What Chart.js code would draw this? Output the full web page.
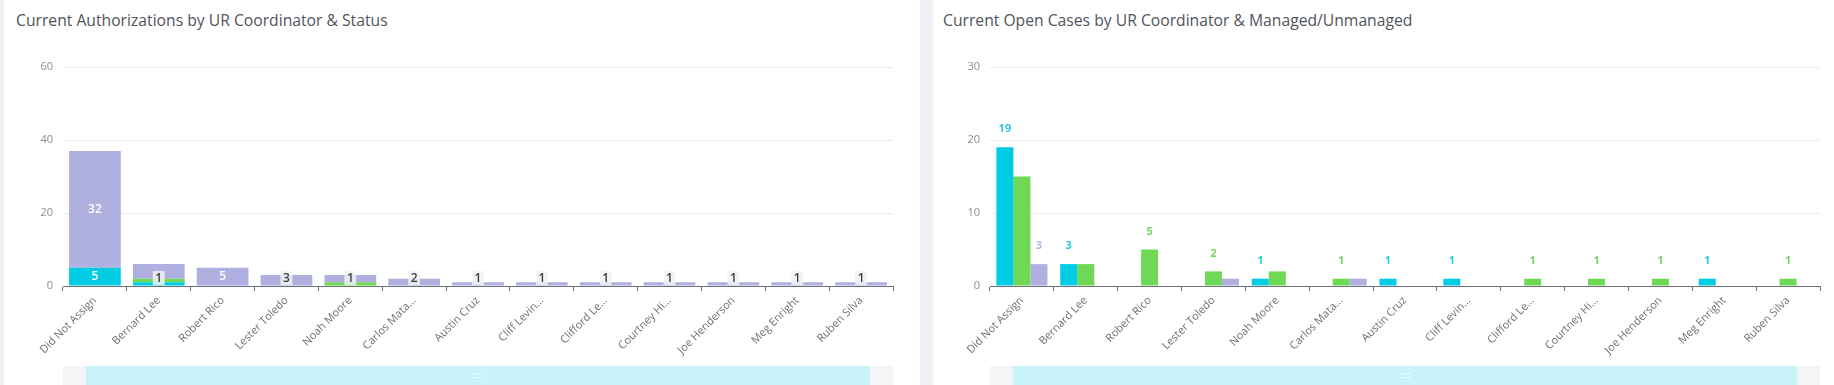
<!DOCTYPE html>
<html>
<head>
<meta charset="utf-8">
<script src="https://cdn.jsdelivr.net/npm/chart.js@4.4.1/dist/chart.umd.min.js"></script>
<style>
    html, body { margin: 0; padding: 0; background: #fff; }
    body { width: 1834px; height: 385px; position: relative; overflow: hidden; font-family: 'Open Sans', sans-serif; }
    .strip { position: absolute; top: 0; height: 385px; background: #eef1f5; }
    .title { position: absolute; top: 9px; font-size: 15.7px; line-height: 22px; color: #50545c; white-space: nowrap; }
    canvas { position: absolute; top: 0; }
</style>
</head>
<body>
<div class="strip" style="left:0;width:4px"></div>
<div class="strip" style="left:920px;width:13px"></div>
<div class="title" style="left:16px">Current Authorizations by UR Coordinator &amp; Status</div>
<div class="title" style="left:943px">Current Open Cases by UR Coordinator &amp; Managed/Unmanaged</div>
<canvas id="authChart" width="920" height="385" style="left:0"></canvas>
<canvas id="casesChart" width="901" height="385" style="left:933px"></canvas>
<script>
// Coordinators (both charts share the same list)
const coordinators = ['Did Not Assign', 'Bernard Lee', 'Robert Rico', 'Lester Toledo', 'Noah Moore', 'Carlos Mata...',
    'Austin Cruz', 'Cliff Levin...', 'Clifford Le...', 'Courtney Hi...', 'Joe Henderson', 'Meg Enright', 'Ruben Silva'];

// Authorizations by status (stacked)
const authCyan   = [5, 1, 0, 0, 0, 0, 0, 0, 0, 0, 0, 0, 0];
const authGreen  = [0, 1, 0, 0, 1, 0, 0, 0, 0, 0, 0, 0, 0];
const authPurple = [32, 4, 5, 3, 2, 2, 1, 1, 1, 1, 1, 1, 1];
const authTicks  = { max: 60, step: 20 };

// Open cases managed / unmanaged (grouped)
const caseCyan   = [19, 3, 0, 0, 1, 0, 1, 1, 0, 0, 0, 1, 0];
const caseGreen  = [15, 3, 5, 2, 2, 1, 0, 0, 1, 1, 1, 0, 1];
const casePurple = [3, 0, 0, 1, 0, 1, 0, 0, 0, 0, 0, 0, 0];
const caseTicks  = { max: 30, step: 10 };

const CYAN = '#00cde4';
const GREEN = '#6fd957';
const PURPLE = '#b0b0e0';
const AXIS = '#6e7079';
const FONT = "'Open Sans', sans-serif";

Chart.defaults.font.family = FONT;
Chart.defaults.animation = false;

// fake dataZoom slider under the x labels
const sliderPlugin = {
    id: 'slider',
    afterDraw(chart) {
        const ctx = chart.ctx;
        const { left, right } = chart.chartArea;
        const top = 366;
        ctx.save();
        ctx.fillStyle = '#f4f5f7';
        ctx.fillRect(left, top, right - left, 385 - top);
        ctx.fillStyle = '#c9f3f8';
        ctx.fillRect(left + 23, top, right - left - 46, 385 - top);
        // grip
        const mid = (left + right) / 2;
        ctx.fillStyle = '#ffffff';
        for (let r = 0; r < 2; r++) {
            for (let c = 0; c < 3; c++) {
                ctx.fillRect(mid - 5 + c * 4, top + 7 + r * 4, 2, 1);
            }
        }
        ctx.fillStyle = '#eceef1';
        ctx.fillRect(left + 8, top + 7, 7, 1);
        ctx.fillRect(left + 8, top + 10, 7, 1);
        ctx.fillRect(right - 15, top + 7, 7, 1);
        ctx.fillRect(right - 15, top + 10, 7, 1);
        ctx.restore();
    }
};

// labels inside stacks: white if segment is tall enough, otherwise one boxed label per stack
const stackLabelPlugin = {
    id: 'stackLabels',
    afterDatasetsDraw(chart) {
        const ctx = chart.ctx;
        const bottom = chart.chartArea.bottom;
        const boxed = {};
        ctx.save();
        ctx.textAlign = 'center';
        ctx.textBaseline = 'middle';
        chart.data.datasets.forEach((ds, di) => {
            const meta = chart.getDatasetMeta(di);
            meta.data.forEach((bar, i) => {
                const v = ds.data[i];
                if (!v) return;
                const h = bar.base - bar.y;
                if (h >= 17) {
                    ctx.font = '600 12px ' + FONT;
                    ctx.fillStyle = '#ffffff';
                    ctx.fillText(String(v), bar.x, (bar.y + bar.base) / 2);
                } else if (!boxed[i]) {
                    boxed[i] = true;
                    ctx.font = '600 12px ' + FONT;
                    const w = ctx.measureText(String(v)).width + 5;
                    const cy = bottom - 8;
                    ctx.fillStyle = 'rgba(240,242,244,0.85)';
                    ctx.fillRect(bar.x - w / 2, cy - 7, w, 14);
                    ctx.fillStyle = '#3c3c3c';
                    ctx.fillText(String(v), bar.x, cy + 0.5);
                }
            });
        });
        ctx.restore();
    }
};

// labels over grouped bars, skipping one that sits next to a drawn label
const topLabelPlugin = {
    id: 'topLabels',
    afterDatasetsDraw(chart) {
        const ctx = chart.ctx;
        ctx.save();
        ctx.textAlign = 'center';
        ctx.textBaseline = 'middle';
        ctx.font = 'bold 11px ' + FONT;
        const n = chart.data.labels.length;
        for (let i = 0; i < n; i++) {
            let prevDrawn = false;
            chart.data.datasets.forEach((ds, di) => {
                const v = ds.data[i];
                if (!v) { prevDrawn = false; return; }
                if (prevDrawn) { prevDrawn = false; return; }
                const bar = chart.getDatasetMeta(di).data[i];
                ctx.fillStyle = ds.labelColor;
                ctx.fillText(String(v), bar.x, bar.y - 18);
                prevDrawn = true;
            });
        }
        ctx.restore();
    }
};

function scales(ticks, yWidth, stacked) {
    return {
        x: {
            stacked: stacked,
            afterFit: axis => { axis.height = 99; },
            border: { color: AXIS, width: 1 },
            grid: { display: true, drawOnChartArea: false, drawTicks: true, tickLength: 5, color: AXIS, offset: true },
            ticks: { color: '#6e7079', font: { size: 11 }, minRotation: 45, maxRotation: 45, autoSkip: false, padding: 3 }
        },
        y: {
            stacked: stacked,
            min: 0,
            max: ticks.max,
            afterFit: axis => { axis.width = yWidth; },
            border: { display: false },
            grid: { color: '#e9ecf0', drawTicks: false },
            ticks: { stepSize: ticks.step, color: '#8a8d93', font: { size: 11 }, padding: 10 }
        }
    };
}

new Chart(document.getElementById('authChart'), {
    type: 'bar',
    data: {
        labels: coordinators,
        datasets: [
            { label: 'Status A', data: authCyan, backgroundColor: CYAN },
            { label: 'Status B', data: authGreen, backgroundColor: GREEN },
            { label: 'Status C', data: authPurple, backgroundColor: PURPLE }
        ]
    },
    options: {
        responsive: false,
        categoryPercentage: 0.81,
        barPercentage: 1,
        layout: { padding: { left: 0, top: 67, right: 27, bottom: 0 } },
        plugins: { legend: { display: false }, tooltip: { enabled: false } },
        scales: scales(authTicks, 63, true)
    },
    plugins: [stackLabelPlugin, sliderPlugin]
});

new Chart(document.getElementById('casesChart'), {
    type: 'bar',
    data: {
        labels: coordinators,
        datasets: [
            { label: 'Managed', data: caseCyan, backgroundColor: CYAN, labelColor: '#2cc9e3' },
            { label: 'Unmanaged', data: caseGreen, backgroundColor: GREEN, labelColor: '#72d95c' },
            { label: 'Other', data: casePurple, backgroundColor: PURPLE, labelColor: '#b4b4e2' }
        ]
    },
    options: {
        responsive: false,
        categoryPercentage: 0.8,
        barPercentage: 1,
        layout: { padding: { left: 0, top: 67, right: 14, bottom: 0 } },
        plugins: { legend: { display: false }, tooltip: { enabled: false } },
        scales: scales(caseTicks, 57, false)
    },
    plugins: [topLabelPlugin, sliderPlugin]
});
</script>
</body>
</html>
